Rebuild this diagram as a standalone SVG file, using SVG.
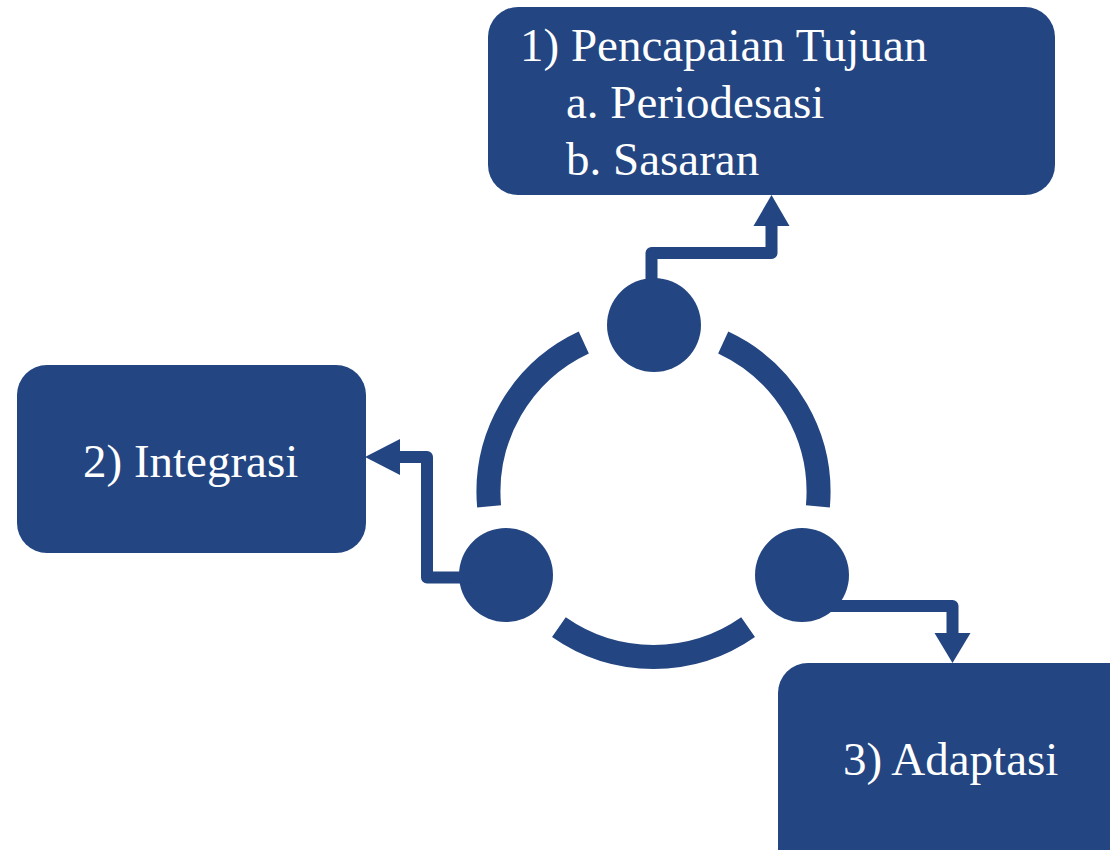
<svg xmlns="http://www.w3.org/2000/svg" width="1110" height="850" viewBox="0 0 1110 850">
<defs>
<style>
.box{fill:#234581}
.lbl{font-size:47px;fill:#ffffff}
.ring{fill:none;stroke:#234581;stroke-width:24;stroke-linecap:butt}
.dot{fill:#234581}
.conn{fill:none;stroke:#234581;stroke-width:12;stroke-linejoin:round}
.head{fill:#234581}
</style>
</defs>
<rect width="1110" height="850" fill="#ffffff"/>
<g id="node1">
<rect class="box" x="488" y="7" width="567" height="188" rx="30"/>
<text class="lbl" font-family="Liberation Serif, Tinos, Times New Roman, DejaVu Serif, serif" x="520" y="61">1) Pencapaian Tujuan</text>
<text class="lbl" font-family="Liberation Serif, Tinos, Times New Roman, DejaVu Serif, serif" x="566" y="118">a. Periodesasi</text>
<text class="lbl" font-family="Liberation Serif, Tinos, Times New Roman, DejaVu Serif, serif" x="566" y="175">b. Sasaran</text>
</g>
<g id="node2">
<rect class="box" x="17" y="365" width="349" height="188" rx="30"/>
<text class="lbl" font-family="Liberation Serif, Tinos, Times New Roman, DejaVu Serif, serif" x="83" y="477">2) Integrasi</text>
</g>
<g id="node3">
<rect class="box" x="778" y="663" width="372" height="220" rx="30"/>
<text class="lbl" font-family="Liberation Serif, Tinos, Times New Roman, DejaVu Serif, serif" x="843" y="775">3) Adaptasi</text>
</g>
<g id="hub">
<path class="ring" d="M723.2 342.5 A165 165 0 0 1 817.9 506.4"/>
<path class="ring" d="M748.1 627.2 A165 165 0 0 1 558.9 627.2"/>
<path class="ring" d="M489.1 506.4 A165 165 0 0 1 583.8 342.5"/>
<circle class="dot" cx="654" cy="325" r="47"/>
<circle class="dot" cx="506" cy="575" r="47"/>
<circle class="dot" cx="802" cy="575" r="47"/>
</g>
<g id="connectors">
<polyline class="conn" points="651.5,285 651.5,253 771.5,253 771.5,224"/>
<polygon class="head" points="753.5,226 789.5,226 771.5,195"/>
<polyline class="conn" points="470,577.5 427,577.5 427,457 398,457"/>
<polygon class="head" points="400,439 400,475 365,457"/>
<polyline class="conn" points="830,606 952.5,606 952.5,635"/>
<polygon class="head" points="934.5,633 970.5,633 952.5,663"/>
</g>
</svg>
